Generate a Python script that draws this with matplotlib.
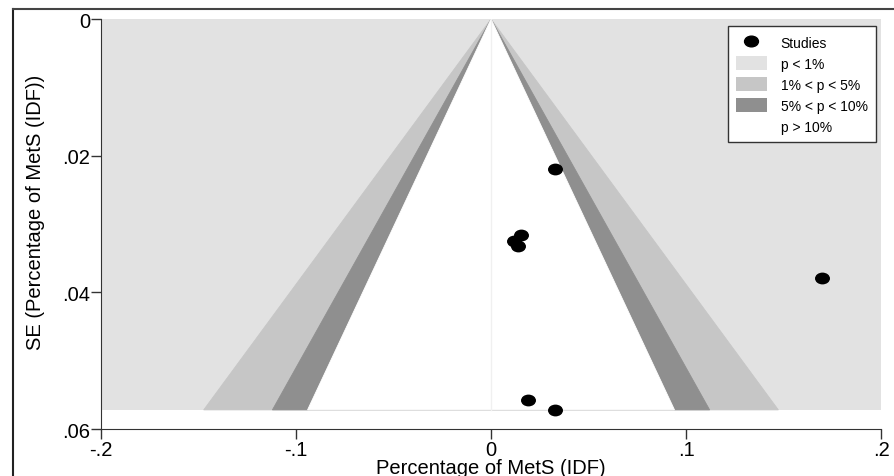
import numpy as np
import matplotlib.pyplot as plt
from matplotlib.lines import Line2D
from matplotlib.patches import Patch
from matplotlib.path import Path
from matplotlib.transforms import Affine2D

plt.rcParams['font.family'] = ['Liberation Sans', 'DejaVu Sans']

# Study estimates.
effect = [0.033, 0.0154, 0.0118, 0.0138, 0.1697, 0.0188, 0.0328]
se = [0.0220, 0.0316, 0.0325, 0.0332, 0.0379, 0.0557, 0.0572]

# Contour levels (z values) and their fills.
z_levels = [2.576, 1.96, 1.645]
contour_colors = ['#c6c6c6', '#8f8f8f', 'white']
outer_color = '#e2e2e2'

x_ticks = [-0.2, -0.1, 0, 0.1, 0.2]
x_ticklabels = ['-.2', '-.1', '0', '.1', '.2']
y_ticks = [0, 0.02, 0.04, 0.06]
y_ticklabels = ['0', '.02', '.04', '.06']

fig = plt.figure(figsize=(8.94, 4.77), dpi=100)
ax = fig.add_axes([0.113, 0.0985, 0.8725, 0.8595])

se_max = max(se)

# Outer region, p < 1%.
ax.fill([-0.2, 0.2, 0.2, -0.2], [0, 0, se_max, se_max], color=outer_color, lw=0, zorder=1)

# Nested triangles for the contours.
for z, c in zip(z_levels, contour_colors):
    ax.fill([0, z * se_max, -z * se_max], [0, se_max, se_max], color=c, lw=0.6,
            edgecolor=c, zorder=2)

# Faint line at zero.
ax.plot([0, 0], [0, se_max], color='#f0f0f0', lw=1, zorder=3)

# Slightly wide elliptic marker, like the original.
ellipse = Path.unit_circle().transformed(Affine2D().scale(1.3, 1.0))
ax.scatter(effect, se, s=95, marker=ellipse, color='black', zorder=4)

ax.set_xlim(-0.2, 0.2)
ax.set_ylim(0.06, 0)
ax.set_xticks(x_ticks)
ax.set_xticklabels(x_ticklabels)
ax.set_yticks(y_ticks)
ax.set_yticklabels(y_ticklabels, rotation=0)
ax.tick_params(labelsize=14.5, length=7, width=1, color='#333333', pad=1)

for side in ['top', 'right']:
    ax.spines[side].set_visible(False)
for side in ['left', 'bottom']:
    ax.spines[side].set_color('#333333')

ax.set_xlabel('Percentage of MetS (IDF)', fontsize=14.5)
ax.xaxis.set_label_coords(0.5, -0.07)
ax.set_ylabel('SE (Percentage of MetS (IDF))', fontsize=14.5)
ax.yaxis.set_label_coords(-0.072, 0.53)

# Legend.
handles = [
    Line2D([], [], marker=ellipse, color='black', ls='none', markersize=10),
    Patch(facecolor=outer_color, edgecolor='none'),
    Patch(facecolor=contour_colors[0], edgecolor='none'),
    Patch(facecolor=contour_colors[1], edgecolor='none'),
    Patch(facecolor='white', edgecolor='none'),
]
labels = ['Studies', 'p < 1%', '1% < p < 5%', '5% < p < 10%', 'p > 10%']
leg = ax.legend(handles, labels, loc='upper right', bbox_to_anchor=(0.9935, 0.982),
                fontsize=10, frameon=True, fancybox=False, borderpad=0.6,
                labelspacing=0.45, handlelength=2.2, handleheight=1.2,
                handletextpad=1.0, borderaxespad=0)
leg.get_frame().set_edgecolor('#333333')
leg.get_frame().set_linewidth(1.0)
leg.get_frame().set_facecolor('white')
leg.get_frame().set_alpha(1)

# Outer frame of the picture.
fig.add_artist(Line2D([13 / 894, 13 / 894], [0, 1 - 10 / 477], color='#222222', lw=1.5))
fig.add_artist(Line2D([13 / 894, 1], [1 - 10 / 477, 1 - 10 / 477], color='#444444', lw=1.5))

fig.savefig('out.png', dpi=100)
